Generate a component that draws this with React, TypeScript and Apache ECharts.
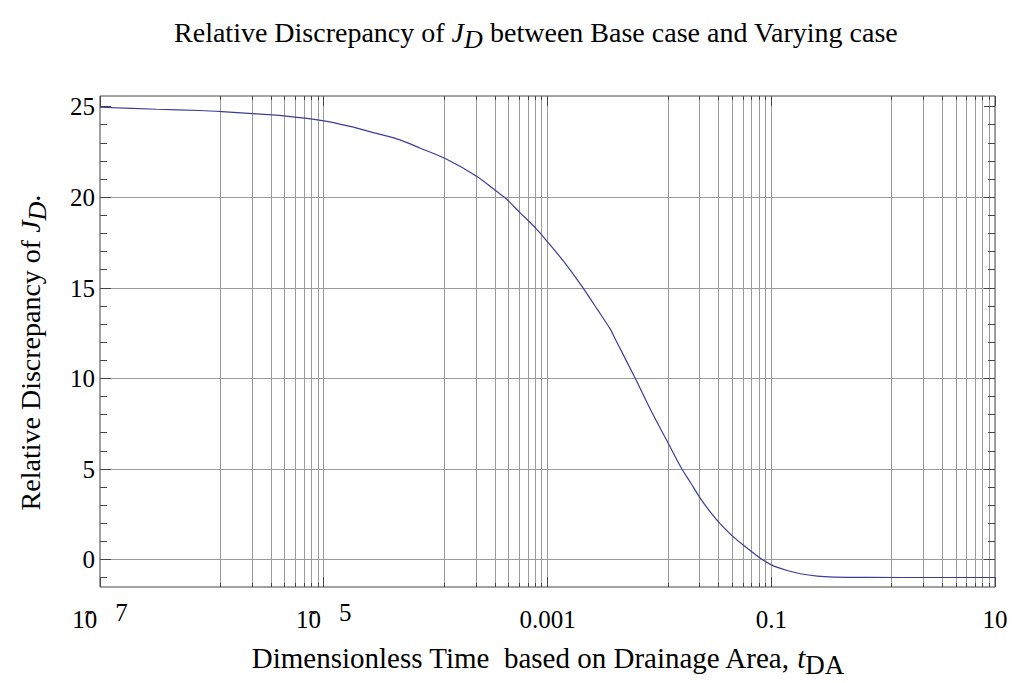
import React, { useEffect, useRef } from 'react';
import * as echarts from 'echarts';

// Dimensionless time t_DA and the relative discrepancy of J_D at each time
const tValues = [
  1e-7, 3.2e-7, 7.8e-7, 1.23e-6, 2.3e-6, 4.6e-6, 1e-5, 1.72e-5, 2.9e-5, 4.8e-5,
  7.3e-5, 1.22e-4, 2.34e-4, 3.5e-4, 4.2e-4, 5.7e-4, 7.8e-4, 1.02e-3, 1.39e-3, 1.84e-3,
  2.18e-3, 2.77e-3, 3.65e-3, 4.04e-3, 6.1e-3, 8.3e-3, 0.0121, 0.0159, 0.0189, 0.0234,
  0.0286, 0.0339, 0.0461, 0.0608, 0.08, 0.1, 0.139, 0.182, 0.257, 0.362,
  0.72, 3.2, 10,
];
const discrepancy = [
  24.98, 24.87, 24.8, 24.74, 24.63, 24.49, 24.23, 23.92, 23.55, 23.18,
  22.72, 22.15, 21.16, 20.34, 19.97, 19.15, 18.32, 17.49, 16.48, 15.47,
  14.82, 13.85, 12.72, 12.17, 10.01, 8.31, 6.39, 5.01, 4.28, 3.36,
  2.63, 2.08, 1.25, 0.65, 0.09, -0.28, -0.59, -0.77, -0.9, -0.95,
  -0.97, -0.975, -0.975,
];

// Axis ticks, labels and grid lines
const xMajorTicks = [1e-7, 1e-5, 1e-3, 0.1, 10];
const xMajorLabels = ['{b|1\u03030}{e|7}', '{b|1\u03030}{e|5}', '{b|0.001}', '{b|0.1}', '{b|10}'];
const xGridDecades = [1e-6, 1e-4, 1e-2, 1];
const xGridSteps = [1.2, 2.3, 3.4, 4.5, 5.6, 6.7, 7.8, 8.9, 10];
const yMajorTicks = [0, 5, 10, 15, 20, 25];
const yMinorTicks = [-1, 1, 2, 3, 4, 6, 7, 8, 9, 11, 12, 13, 14, 16, 17, 18, 19, 21, 22, 23, 24];
const yGridLines = [0, 5, 10, 15, 20];

const SERIF = "'Liberation Serif', 'Times New Roman', serif";
const INK = '#000000';
const FRAME = '#444444';
const GRID = '#9a9a9a';
const CURVE = '#3d3d99';

export default function App() {
  const ref = useRef<HTMLDivElement>(null);

  useEffect(() => {
    const el = ref.current;
    if (!el) return;
    const chart = echarts.init(el, null, { renderer: 'svg' });

    const xGridLines: number[] = [];
    xGridDecades.forEach((d) => xGridSteps.forEach((s) => xGridLines.push(s * d)));

    const renderFrame = (params: any, api: any) => {
      const cs = params.coordSys;
      const L = cs.x;
      const R = cs.x + cs.width;
      const T = cs.y;
      const B = cs.y + cs.height;
      const crisp = (v: number) => Math.round(v - 0.5) + 0.5;
      const kids: any[] = [];
      const seg = (x1: number, y1: number, x2: number, y2: number, stroke: string) =>
        kids.push({
          type: 'line',
          shape: { x1, y1, x2, y2 },
          style: { stroke, lineWidth: 1 },
        });

      xGridLines.forEach((v) => {
        const x = crisp(api.coord([v, 0])[0]);
        seg(x, T, x, B, GRID);
        seg(x, B, x, B - 4, FRAME);
        seg(x, T, x, T + 4, FRAME);
      });
      yGridLines.forEach((v) => {
        const y = crisp(api.coord([1, v])[1]);
        seg(L, y, R, y, GRID);
      });
      xMajorTicks.forEach((v) => {
        const x = crisp(api.coord([v, 0])[0]);
        seg(x, B, x, B - 10, FRAME);
        seg(x, T, x, T + 10, FRAME);
      });
      yMajorTicks.forEach((v) => {
        const y = crisp(api.coord([1, v])[1]);
        seg(L, y, L + 11, y, FRAME);
        seg(R, y, R - 11, y, FRAME);
      });
      yMinorTicks.forEach((v) => {
        const y = crisp(api.coord([1, v])[1]);
        seg(L, y, L + 7, y, FRAME);
        seg(R, y, R - 7, y, FRAME);
      });
      return { type: 'group', children: kids };
    };

    const xLabel = (v: number) => {
      const i = xMajorTicks.findIndex((t) => Math.abs(Math.log10(v) - Math.log10(t)) < 0.01);
      return i >= 0 ? xMajorLabels[i] : '';
    };

    const option: any = {
      animation: false,
      backgroundColor: '#ffffff',
      graphic: [
        {
          type: 'text',
          x: 536,
          y: 12,
          style: {
            text: '{n|Relative Discrepancy of }{i|J}{s|D}{n| between Base case and Varying case}',
            align: 'center',
            verticalAlign: 'top',
            fill: INK,
            rich: {
              n: { fontFamily: SERIF, fontSize: 28, fill: INK },
              i: { fontFamily: SERIF, fontSize: 28, fontStyle: 'italic', fill: INK },
              s: { fontFamily: SERIF, fontSize: 26, fontStyle: 'italic', fill: INK, padding: [14, 0, 0, 0] },
            },
          },
        },
      ],
      grid: {
        left: 100,
        right: 18,
        top: 96,
        bottom: 95,
        show: true,
        borderColor: FRAME,
        borderWidth: 1,
        backgroundColor: 'transparent',
      },
      xAxis: {
        type: 'log',
        logBase: 10,
        min: 1e-7,
        max: 10,
        splitNumber: 8,
        axisLine: { show: false },
        axisTick: { show: false },
        splitLine: { show: false },
        axisLabel: {
          margin: 6,
          formatter: xLabel,
          rich: {
            b: { fontFamily: SERIF, fontSize: 25, color: INK, padding: [14, 0, 0, 0] },
            e: { fontFamily: SERIF, fontSize: 25, color: INK, padding: [0, 0, 0, 18] },
          },
        },
        name: '{n|Dimensionless Time  based on Drainage Area, }{i|t}{s|DA}',
        nameLocation: 'middle',
        nameGap: 50,
        nameTextStyle: {
          rich: {
            n: { fontFamily: SERIF, fontSize: 29, color: INK },
            i: { fontFamily: SERIF, fontSize: 29, fontStyle: 'italic', color: INK },
            s: { fontFamily: SERIF, fontSize: 27, color: INK, padding: [14, 0, 0, 0] },
          },
        },
      },
      yAxis: {
        type: 'value',
        min: -1.5,
        max: 25.6,
        axisLine: { show: false },
        axisTick: { show: false },
        splitLine: { show: false },
        axisLabel: {
          customValues: yMajorTicks,
          formatter: (v: number) => (yMajorTicks.includes(v) ? String(v) : ''),
          fontFamily: SERIF,
          fontSize: 25,
          color: INK,
          margin: 5,
        },
        name: '{n|Relative Discrepancy of }{i|J}{s|D}{d|.}',
        nameLocation: 'middle',
        nameGap: 50,
        nameTextStyle: {
          rich: {
            n: { fontFamily: SERIF, fontSize: 28, color: INK },
            i: { fontFamily: SERIF, fontSize: 28, fontStyle: 'italic', color: INK },
            s: { fontFamily: SERIF, fontSize: 26, fontStyle: 'italic', color: INK, padding: [14, 0, 0, 0] },
            d: { fontFamily: SERIF, fontSize: 28, color: INK, padding: [0, 22, 0, 0] },
          },
        },
      },
      series: [
        {
          type: 'custom',
          data: [[1, 0]],
          renderItem: renderFrame,
          silent: true,
          clip: false,
          z: 1,
        },
        {
          type: 'line',
          data: tValues.map((t, i) => [t, discrepancy[i]]),
          showSymbol: false,
          smooth: 0.3,
          lineStyle: { color: CURVE, width: 1.2 },
          z: 3,
        },
      ],
    };

    chart.setOption(option);
    return () => chart.dispose();
  }, []);

  return (
    <div
      ref={ref}
      style={{ position: 'fixed', left: 0, top: 0, width: 1013, height: 683, background: '#ffffff' }}
    />
  );
}
